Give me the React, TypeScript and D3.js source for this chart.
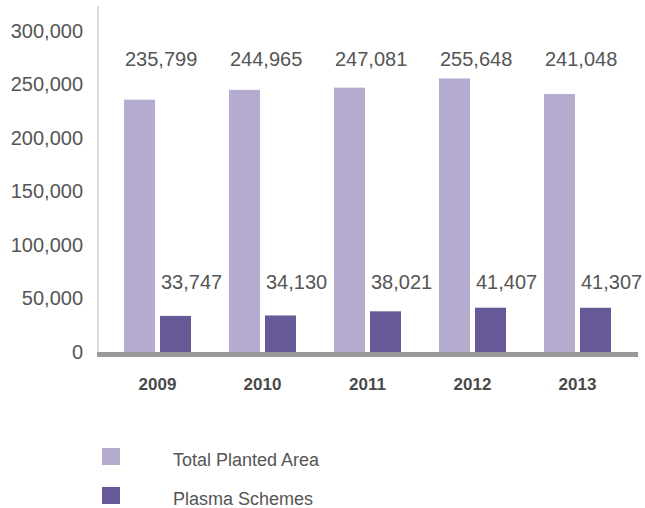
import React from "react";
import * as d3 from "d3";

const years = ["2009", "2010", "2011", "2012", "2013"];
const totalPlanted = [235799, 244965, 247081, 255648, 241048];
const plasmaSchemes = [33747, 34130, 38021, 41407, 41307];
const yTicks = [0, 50000, 100000, 150000, 200000, 250000, 300000];
const seriesNames = ["Total Planted Area", "Plasma Schemes"];
const seriesColors = ["#b4abce", "#675897"];

const W = 645;
const H = 508;
const FONT = "'Liberation Sans', Arial, Helvetica, sans-serif";
const TEXT = "#555555";

export default function App() {
  const x = d3.scaleBand<string>().domain(years).range([105, 630]).paddingInner(38 / 105).paddingOuter(19 / 105);
  const inner = d3.scaleBand<string>().domain(["total", "plasma"]).range([0, x.bandwidth()]).paddingInner(5 / 36).paddingOuter(0);
  const y = d3.scaleLinear().domain([0, 300000]).range([352, 31]);
  const fmt = d3.format(",");

  return (
    <svg width={W} height={H} style={{ position: "absolute", left: 0, top: 0, background: "#fff" }} fontFamily={FONT}>
      <line x1={98} x2={98} y1={6} y2={y(0)} stroke="#cfcfcf" strokeWidth={1.5} />
      {yTicks.map((t) => (
        <text key={t} x={83} y={y(t) - 0.5} dy="0.35em" textAnchor="end" fontSize={20} fill={TEXT}>
          {fmt(t)}
        </text>
      ))}
      {years.map((yr, i) => {
        const bx = x(yr)!;
        const xt = bx + inner("total")!;
        const xp = bx + inner("plasma")!;
        return (
          <g key={yr}>
            <rect x={xt} y={y(totalPlanted[i])} width={inner.bandwidth()} height={y(0) - y(totalPlanted[i])} fill={seriesColors[0]} />
            <rect x={xp} y={y(plasmaSchemes[i])} width={inner.bandwidth()} height={y(0) - y(plasmaSchemes[i])} fill={seriesColors[1]} />
            <text x={xt + 1} y={66} fontSize={20} fill={TEXT}>{fmt(totalPlanted[i])}</text>
            <text x={xp + 1} y={289} fontSize={20} fill={TEXT}>{fmt(plasmaSchemes[i])}</text>
            <text x={bx + x.bandwidth() / 2} y={390} textAnchor="middle" fontSize={17} fontWeight="bold" fill="#4a4a4a">{yr}</text>
          </g>
        );
      })}
      <line x1={97} x2={638} y1={y(0) + 2.5} y2={y(0) + 2.5} stroke="#9a9a9a" strokeWidth={5} />
      {seriesNames.map((n, i) => (
        <g key={n} transform={`translate(0, ${i * 39})`}>
          <rect x={102} y={448} width={18} height={17} fill={seriesColors[i]} />
          <text x={173} y={466} fontSize={18} fill={TEXT}>{n}</text>
        </g>
      ))}
    </svg>
  );
}
